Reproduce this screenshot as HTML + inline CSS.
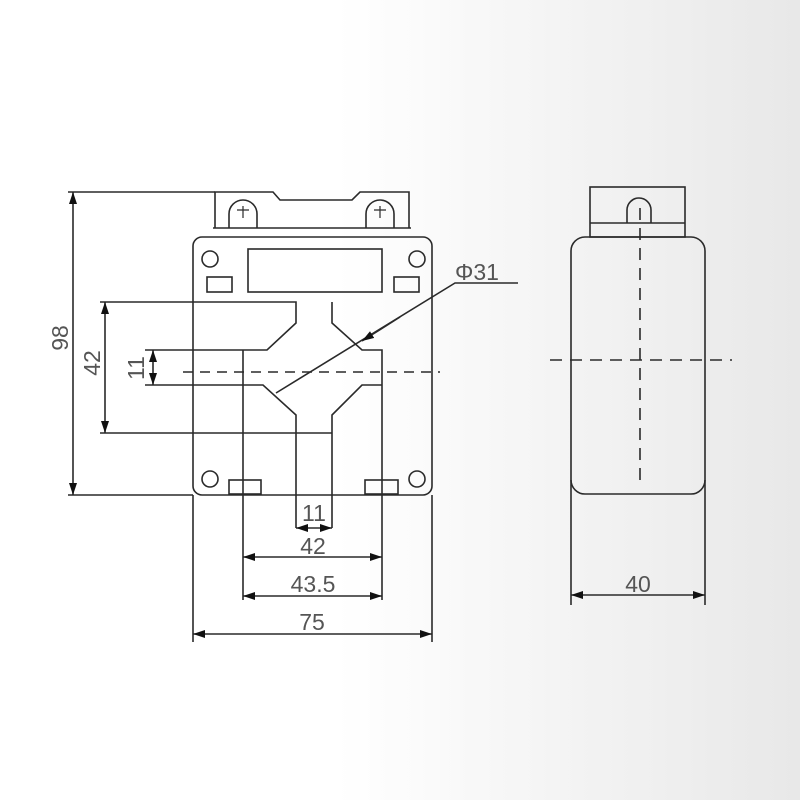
<!DOCTYPE html>
<html><head><meta charset="utf-8"><style>
html,body{margin:0;padding:0}
body{width:800px;height:800px;background:linear-gradient(90deg,#fff 0%,#fff 42%,#e8e8e8 100%);overflow:hidden}
svg{display:block}
text{font-family:"Liberation Sans",sans-serif;fill:#555;font-size:23px}
</style></head><body>
<svg width="800" height="800" viewBox="0 0 800 800">
<defs>
<marker id="a" viewBox="0 0 12 8" refX="12" refY="4" markerWidth="12" markerHeight="8" orient="auto-start-reverse" markerUnits="userSpaceOnUse"><path d="M0,0L12,4L0,8z" fill="#111"/></marker>
</defs>
<g stroke="#2a2a2a" stroke-width="1.6" fill="none">
<path d="M215,228V192H273L280,200H352L360,192H409V228"/>
<line x1="213" y1="228" x2="411" y2="228"/>
<path d="M229,228V214A14,14 0 0 1 257,214V228"/>
<path d="M366,228V214A14,14 0 0 1 394,214V228"/>
<path d="M243,206v12M237,210h12M380,206v12M374,210h12" stroke-width="1.2"/>
<rect x="193" y="237" width="239" height="258" rx="9"/>
<circle cx="210" cy="259" r="8"/><circle cx="417" cy="259" r="8"/>
<circle cx="210" cy="479" r="8"/><circle cx="417" cy="479" r="8"/>
<rect x="248" y="249" width="134" height="43"/>
<rect x="207" y="277" width="25" height="15"/>
<rect x="394" y="277" width="25" height="15"/>
<rect x="229" y="480" width="32" height="14"/>
<rect x="365" y="480" width="33" height="14"/>
<path d="M100,302H296V323L267,350H145"/>
<path d="M332,302V323L362,350H382V600"/>
<path d="M145,385H263L296,415V528"/>
<path d="M382,385H362L332,415V528"/>
<line x1="243" y1="350" x2="243" y2="600"/>
<line x1="100" y1="433" x2="332" y2="433"/>
<line x1="183" y1="372" x2="440" y2="372" stroke-dasharray="10,7"/>
<path d="M276,393L455,283H518"/>
<line x1="400" y1="317" x2="362" y2="341" marker-end="url(#a)"/>
<line x1="68" y1="192" x2="215" y2="192"/>
<line x1="68" y1="495" x2="193" y2="495"/>
<line x1="73" y1="192" x2="73" y2="495" marker-start="url(#a)" marker-end="url(#a)"/>
<line x1="105" y1="302" x2="105" y2="433" marker-start="url(#a)" marker-end="url(#a)"/>
<line x1="153" y1="350" x2="153" y2="385" marker-start="url(#a)" marker-end="url(#a)"/>
<line x1="193" y1="495" x2="193" y2="642"/>
<line x1="432" y1="495" x2="432" y2="642"/>
<line x1="296" y1="528" x2="332" y2="528" marker-start="url(#a)" marker-end="url(#a)"/>
<line x1="243" y1="557" x2="382" y2="557" marker-start="url(#a)" marker-end="url(#a)"/>
<line x1="243" y1="596" x2="382" y2="596" marker-start="url(#a)" marker-end="url(#a)"/>
<line x1="193" y1="634" x2="432" y2="634" marker-start="url(#a)" marker-end="url(#a)"/>
<rect x="590" y="187" width="95" height="50"/>
<line x1="590" y1="223" x2="685" y2="223"/>
<path d="M627,223V210A12,12 0 0 1 651,210V223"/>
<rect x="571" y="237" width="134" height="257" rx="14"/>
<line x1="571" y1="480" x2="571" y2="605"/>
<line x1="705" y1="480" x2="705" y2="605"/>
<line x1="640" y1="208" x2="640" y2="485" stroke-dasharray="12,8"/>
<line x1="550" y1="360" x2="732" y2="360" stroke-dasharray="12,8"/>
<line x1="571" y1="595" x2="705" y2="595" marker-start="url(#a)" marker-end="url(#a)"/>
</g>
<text x="455" y="280">Φ31</text>
<text transform="translate(68,338) rotate(-90)" text-anchor="middle">98</text>
<text transform="translate(100,363) rotate(-90)" text-anchor="middle">42</text>
<text transform="translate(144,368) rotate(-90)" text-anchor="middle">11</text>
<text x="314" y="521" text-anchor="middle">11</text>
<text x="313" y="554" text-anchor="middle">42</text>
<text x="313" y="592" text-anchor="middle">43.5</text>
<text x="312" y="630" text-anchor="middle">75</text>
<text x="638" y="592" text-anchor="middle">40</text>
</svg>
</body></html>
